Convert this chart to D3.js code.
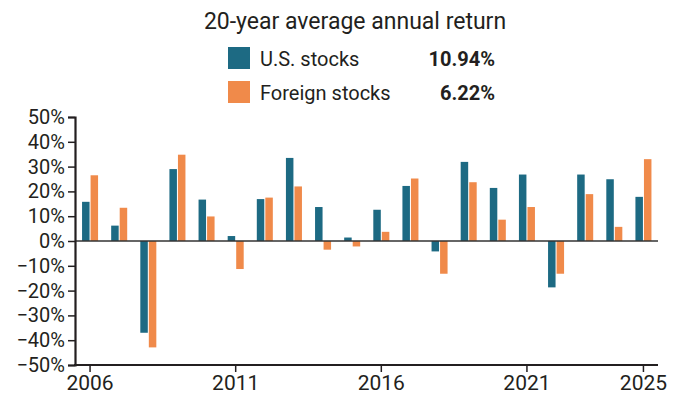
<!DOCTYPE html>
<html>
<head>
<meta charset="utf-8">
<script src="https://cdn.jsdelivr.net/npm/d3@7"></script>
<style>
  body { margin: 0; background: #fff; }
  svg text { font-family: Roboto, "Open Sans", sans-serif; fill: #231f20; }
</style>
</head>
<body>
<script>
// values (annual return, %)
const years = d3.range(2006, 2026).map(String);
const usStocks = [15.8, 6.2, -37.0, 29.0, 16.7, 2.0, 16.9, 33.5, 13.7, 1.4, 12.6, 22.2, -4.2, 31.9, 21.4, 26.8, -18.7, 26.8, 24.9, 17.8];
const foreignStocks = [26.5, 13.4, -42.9, 34.8, 9.9, -11.3, 17.5, 22.0, -3.5, -2.2, 3.7, 25.2, -13.2, 23.7, 8.6, 13.7, -13.2, 18.9, 5.7, 33.0];
const seriesNames = ['U.S. stocks', 'Foreign stocks'];
const seriesAvg = ['10.94%', '6.22%'];
const yTicks = [-50, -40, -30, -20, -10, 0, 10, 20, 30, 40, 50];
const xTickYears = ['2006', '2011', '2016', '2021', '2025'];

const colors = ['#1d6a83', '#f08a4a'];
const W = 684, H = 402;

const svg = d3.select('body')
    .append('svg')
    .attr('width', W)
    .attr('height', H);

const x = d3.scaleBand()
    .domain(years)
    .range([75.5, 658])
    .paddingInner(0.38)
    .paddingOuter(0.19);

const xSub = d3.scaleBand()
    .domain([0, 1])
    .range([0, x.bandwidth()])
    .padding(0.12);

const y = d3.scaleLinear()
    .domain([-50, 50])
    .range([365, 117]);

// title
svg.append('text')
    .attr('x', 355)
    .attr('y', 28.5)
    .attr('text-anchor', 'middle')
    .attr('font-size', 23)
    .text('20-year average annual return');

// legend
const leg = svg.selectAll('g.legend')
    .data(seriesNames)
    .enter()
    .append('g')
    .attr('class', 'legend')
    .attr('transform', (d, i) => `translate(228, ${47 + i * 34})`);

leg.append('rect')
    .attr('width', 22)
    .attr('height', 22)
    .attr('fill', (d, i) => colors[i]);

leg.append('text')
    .attr('x', 32)
    .attr('y', 19)
    .attr('font-size', 20)
    .text(d => d);

leg.append('text')
    .attr('x', 267)
    .attr('y', 19)
    .attr('text-anchor', 'end')
    .attr('font-size', 20)
    .attr('font-weight', 700)
    .text((d, i) => seriesAvg[i]);

// bars
const data = years.map((yr, i) => ({ year: yr, vals: [usStocks[i], foreignStocks[i]] }));

const groups = svg.selectAll('g.year')
    .data(data)
    .enter()
    .append('g')
    .attr('class', 'year')
    .attr('transform', d => `translate(${x(d.year)},0)`);

groups.selectAll('rect')
    .data(d => d.vals)
    .enter()
    .append('rect')
    .attr('x', (d, i) => xSub(i))
    .attr('width', xSub.bandwidth())
    .attr('y', d => y(Math.max(0, d)))
    .attr('height', d => Math.abs(y(d) - y(0)))
    .attr('fill', (d, i) => colors[i]);

// zero line
svg.append('line')
    .attr('x1', 75)
    .attr('x2', 658)
    .attr('y1', y(0))
    .attr('y2', y(0))
    .attr('stroke', '#333')
    .attr('stroke-width', 1.5);

// y axis
const yAxis = svg.append('g')
    .attr('transform', 'translate(75,0)')
    .call(d3.axisLeft(y)
        .tickValues(yTicks)
        .tickSize(7)
        .tickPadding(3)
        .tickFormat(d => (d < 0 ? '\u2212' + Math.abs(d) : d) + '%'));

yAxis.select('.domain').attr('stroke', '#231f20').attr('stroke-width', 2.2);
yAxis.selectAll('.tick line').attr('stroke', '#231f20').attr('stroke-width', 1.5);
yAxis.selectAll('.tick text')
    .attr('font-size', 20)
    .attr('fill', '#231f20')
    .style('font-family', 'Roboto, sans-serif');

// x axis
const xAxis = svg.append('g')
    .attr('transform', `translate(0,${y(-50)})`)
    .call(d3.axisBottom(x)
        .tickValues(xTickYears)
        .tickSize(7)
        .tickPadding(3)
        .tickSizeOuter(0));

xAxis.select('.domain').attr('stroke', '#231f20').attr('stroke-width', 2.2)
    .attr('d', 'M74,0H658');
xAxis.selectAll('.tick line').attr('stroke', '#231f20').attr('stroke-width', 1.5);
xAxis.selectAll('.tick text')
    .attr('font-size', 21)
    .attr('fill', '#231f20')
    .style('font-family', 'Roboto, sans-serif');
</script>
</body>
</html>
